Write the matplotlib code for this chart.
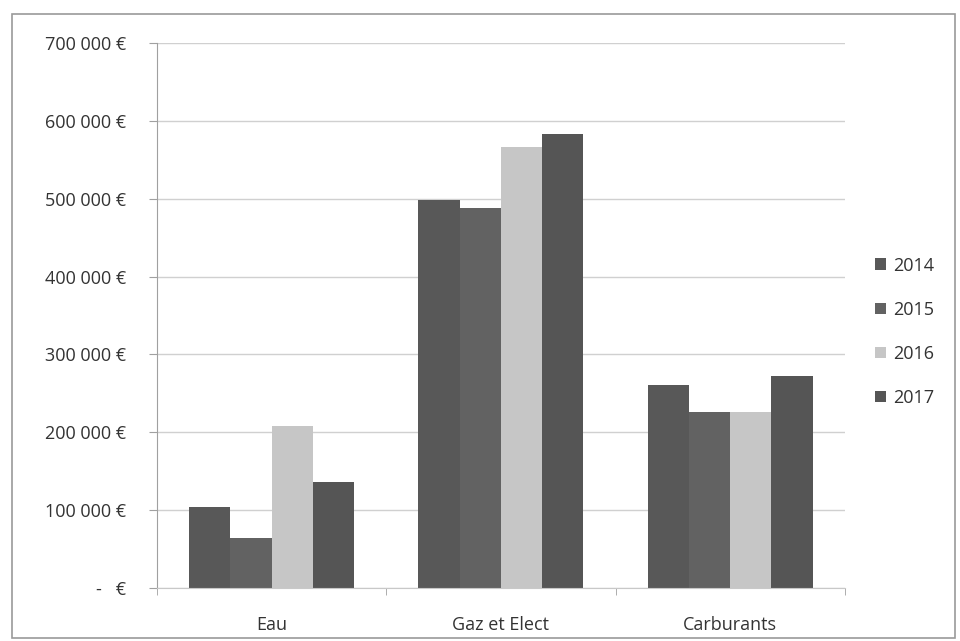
import numpy as np
import matplotlib.pyplot as plt
from matplotlib.patches import Rectangle
from matplotlib.ticker import FuncFormatter

plt.rcParams['font.family'] = ['Open Sans', 'DejaVu Sans']

categories = ['Eau', 'Gaz et Elect', 'Carburants']
years = ['2014', '2015', '2016', '2017']
v2014 = [104000, 498000, 261000]
v2015 = [64000, 488000, 226000]
v2016 = [208000, 566000, 226000]
v2017 = [136000, 583000, 272000]
series = [v2014, v2015, v2016, v2017]
colors = ['#585858', '#626262', '#c6c6c6', '#555555']

fig = plt.figure(figsize=(9.6, 6.41), dpi=100)
ax = fig.add_axes([0.1635, 0.0827, 0.7165, 0.8503])

x = np.arange(len(categories))
w = 0.18
for i, (vals, yr) in enumerate(zip(series, years)):
    ax.bar(x + (i - 1.5) * w, vals, width=w, color=colors[i], label=yr, zorder=2)

ax.set_xlim(-0.5, 2.5)
ax.set_ylim(0, 700000)
ax.set_yticks(np.arange(0, 700001, 100000))

def eur(v, pos):
    if v == 0:
        return '-   €'
    return f'{int(v):,} €'.replace(',', ' ')

ax.yaxis.set_major_formatter(FuncFormatter(eur))
ax.set_xticks(x)
ax.set_xticklabels(categories)
ax.set_xticks([-0.5, 0.5, 1.5, 2.5], minor=True)

ax.grid(axis='y', color='#d0d0d0', linewidth=1, zorder=0)
for s in ['top', 'right']:
    ax.spines[s].set_visible(False)
ax.spines['left'].set_color('#a0a0a0')
ax.spines['bottom'].set_color('#c8c8c8')
ax.tick_params(axis='y', length=6, color='#a0a0a0', labelsize=13, labelcolor='#333333', pad=16)
ax.tick_params(axis='x', which='major', length=0, labelsize=13, labelcolor='#333333', pad=20)
ax.tick_params(axis='x', which='minor', length=5, color='#a0a0a0')

ax.legend(loc='center left', bbox_to_anchor=(1.02, 0.47), frameon=False,
          fontsize=13, handlelength=0.6, handleheight=0.6, handletextpad=0.4,
          labelspacing=1.45, labelcolor='#333333')

fig.patches.append(Rectangle((12 / 960, 3 / 641), 943 / 960, 624 / 641,
                             transform=fig.transFigure, fill=False,
                             edgecolor='#9a9a9a', linewidth=1.2))

fig.savefig('out.png', dpi=100)
